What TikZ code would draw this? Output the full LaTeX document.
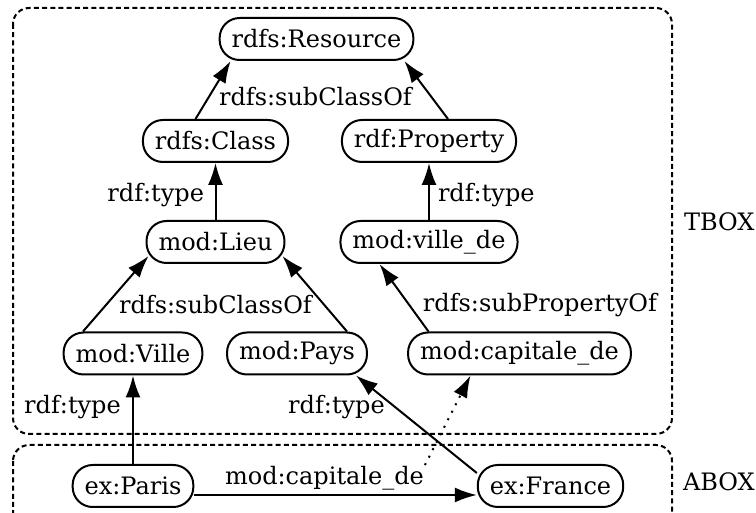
\documentclass[tikz,border=0pt]{standalone}
\usepackage{fontspec}
\setmainfont{DejaVu Serif}
\usetikzlibrary{arrows.meta,calc}
\tikzset{
  res/.style={draw,line width=1pt,rounded corners=10pt,minimum height=21pt,inner xsep=6pt,inner ysep=0pt},
  lab/.style={inner sep=0pt},
  boxframe/.style={draw,line width=1pt,dash pattern=on 2.5pt off 1.6pt,rounded corners=8pt},
  dots/.style={dash pattern=on 1pt off 3.2pt}
}

\begin{document}
\begin{tikzpicture}[x=0.5pt,y=-0.5pt,font=\fontsize{12pt}{14pt}\selectfont,>={Latex[length=11pt,width=7.5pt]},line width=1pt]
            \useasboundingbox (0,0) rectangle (756,513);
            \draw[boxframe] (13,8) rectangle (672,434);
            \draw[boxframe] (13,445) rectangle (672,545);
            \node[lab,anchor=west] (tbox) at (683,222) {TBOX};
            \node[lab,anchor=west] (abox) at (682,482) {ABOX};

            \node[res] (res) at (316.5,39) {rdfs:Resource};
            \node[res] (class) at (215.5,141) {rdfs:Class};
            \node[res] (prop) at (429,141) {rdf:Property};
            \node[res] (lieu) at (215.5,242) {mod:Lieu};
            \node[res] (villede) at (429,242) {mod:ville\_de};
            \node[res] (ville) at (133,353.5) {mod:Ville};
            \node[res] (pays) at (297,353.5) {mod:Pays};
            \node[res] (capde) at (519.5,353.5) {mod:capitale\_de};
            \node[res] (paris) at (133,486) {ex:Paris};
            \node[res] (france) at (550.5,486) {ex:France};

            \node[lab] (sub1) at (315.5,97) {rdfs:subClassOf};
            \node[lab,anchor=east] (type1) at (205,195) {rdf:type};
            \node[lab,anchor=west] (type2) at (437,195) {rdf:type};
            \node[lab] (sub2) at (215.5,305) {rdfs:subClassOf};
            \node[lab] (subp) at (540,305) {rdfs:subPropertyOf};
            \node[lab] (type3) at (72.5,407) {rdf:type};
            \node[lab] (type4) at (336.5,407) {rdf:type};
            \node[lab] (caplab) at (324.5,478) {mod:capitale\_de};

            \draw[->] ($(class.north)+(-20,0)$)--($(res.south west)+(12,0)$);
            \draw[->] ($(prop.north)+(19,0)$)--($(res.south east)+(-10,0)$);
            \draw[->] (lieu)--(class);
            \draw[->] (villede)--(prop);
            \draw[->] ($(ville.north)+(-50,0)$)--($(lieu.south west)+(3,-8)$);
            \draw[->] ($(pays.north)+(50,0)$)--($(lieu.south east)+(-3,-8)$);
            \draw[->] ($(capde.north)+(-91,0)$)--($(villede.south west)+(40,0)$);
            \draw[->] (paris)--(ville);
            \draw[->] ($(france.north west)+(0,9)$)--($(pays.south east)+(-12,0)$);
            \draw[->] ($(paris.east)+(0,9)$)--($(france.west)+(0,9)$);
            \draw[->,dots] (caplab.north east)--($(capde.south)+(-49,0)$);
        \end{tikzpicture}
\end{document}
